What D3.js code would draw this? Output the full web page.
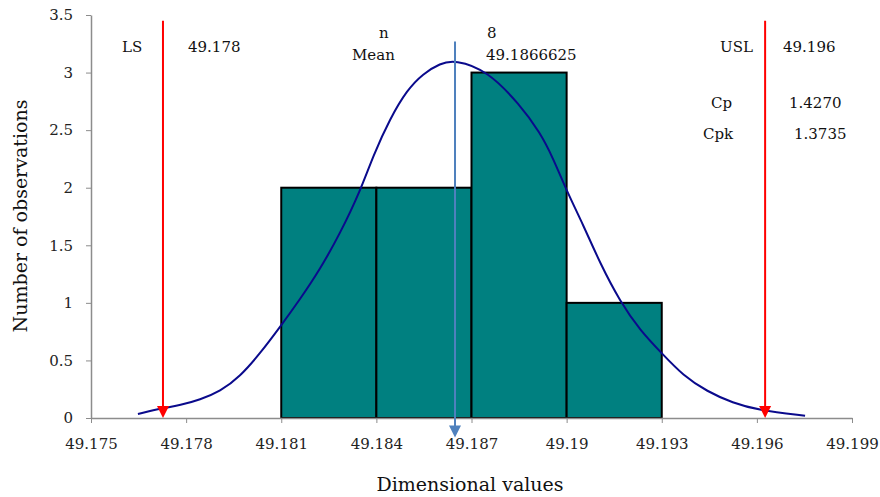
<!DOCTYPE html>
<html>
<head>
<meta charset="utf-8">
<script src="https://cdn.jsdelivr.net/npm/d3@7"></script>
<style>
  body { margin: 0; background: #fff; }
  svg { display: block; }
</style>
</head>
<body>
<svg id="chart" width="880" height="497"></svg>
<script>
// histogram bins and counts
const binEdges = [49.181, 49.184, 49.187, 49.19, 49.193];
const counts = [2, 2, 3, 1];

// fitted curve
const curveX = [49.17648, 49.17727, 49.17781, 49.17844, 49.17907, 49.1797, 49.18033, 49.18096,
  49.18159, 49.18222, 49.18285, 49.18349, 49.1839, 49.18443, 49.18497, 49.18547, 49.18601,
  49.18648, 49.18749, 49.18853, 49.18916, 49.18957, 49.19002, 49.19052, 49.19106, 49.19169,
  49.19232, 49.19301, 49.19367, 49.19443, 49.19525, 49.19601, 49.19752];
const curveY = [0.035, 0.087, 0.11, 0.16, 0.23, 0.36, 0.56, 0.79, 1.03, 1.29, 1.6, 1.97, 2.28,
  2.6, 2.85, 2.99, 3.08, 3.11, 3.02, 2.72, 2.48, 2.26, 1.96, 1.68, 1.34, 1.01, 0.76, 0.56,
  0.37, 0.23, 0.13, 0.07, 0.02];

// axis ticks
const xTicks = [49.175, 49.178, 49.181, 49.184, 49.187, 49.19, 49.193, 49.196, 49.199];
const xTickLabels = ["49.175", "49.178", "49.181", "49.184", "49.187", "49.19", "49.193", "49.196", "49.199"];
const yTicks = [0, 0.5, 1, 1.5, 2, 2.5, 3, 3.5];
const yTickLabels = ["0", "0.5", "1", "1.5", "2", "2.5", "3", "3.5"];

// spec limit and mean markers (where the arrows sit on the x axis)
const lslMark = 49.17727, uslMark = 49.19626, meanMark = 49.18648;

// annotation texts
const statLabels = ["LS", "n", "Mean", "USL", "Cp", "Cpk"];
const statValues = ["49.178", "8", "49.1866625", "49.196", "1.4270", "1.3735"];

const svg = d3.select("#chart");
const serif = "DejaVu Serif";

const x = d3.scaleLinear().domain([49.175, 49.199]).range([91, 852]);
const y = d3.scaleLinear().domain([0, 3.5]).range([418, 15]);

// bars
svg.append("g").selectAll("rect")
    .data(counts)
    .join("rect")
    .attr("x", (d, i) => x(binEdges[i]))
    .attr("y", d => y(d))
    .attr("width", (d, i) => x(binEdges[i + 1]) - x(binEdges[i]))
    .attr("height", d => y(0) - y(d))
    .attr("fill", "#008080")
    .attr("stroke", "#000")
    .attr("stroke-width", 2);

// x axis
const xAxis = svg.append("g")
    .attr("transform", `translate(0,${y(0)})`)
    .call(d3.axisBottom(x).tickValues(xTicks).tickSize(5).tickSizeOuter(0)
        .tickFormat((d, i) => xTickLabels[i]));
xAxis.select(".domain").attr("stroke", "#8c8c8c").attr("stroke-width", 1.5);
xAxis.selectAll(".tick line").attr("stroke", "#8c8c8c");
xAxis.selectAll(".tick text")
    .attr("y", 20)
    .attr("font-family", serif)
    .attr("font-size", 15)
    .attr("fill", "#222");

// y axis
const yAxis = svg.append("g")
    .attr("transform", `translate(${x(49.175)},0)`)
    .call(d3.axisLeft(y).tickValues(yTicks).tickSize(5).tickSizeOuter(0)
        .tickFormat((d, i) => yTickLabels[i]));
yAxis.select(".domain").attr("stroke", "#8c8c8c").attr("stroke-width", 1.5);
yAxis.selectAll(".tick line").attr("stroke", "#8c8c8c");
yAxis.selectAll(".tick text")
    .attr("x", -18)
    .attr("font-family", serif)
    .attr("font-size", 15)
    .attr("fill", "#222");

// fitted curve
const curvePts = curveX.map((v, i) => [v, curveY[i]]);
svg.append("path")
    .datum(curvePts)
    .attr("fill", "none")
    .attr("stroke", "#0a0a8c")
    .attr("stroke-width", 2)
    .attr("d", d3.line().x(d => x(d[0])).y(d => y(d[1])).curve(d3.curveBasis));

// arrows
function arrow(xv, yTop, yBottom, color) {
  const xp = x(xv);
  const tip = y(yBottom);
  svg.append("line")
      .attr("x1", xp).attr("x2", xp)
      .attr("y1", y(yTop)).attr("y2", tip - 8)
      .attr("stroke", color)
      .attr("stroke-width", 2);
  svg.append("path")
      .attr("d", `M${xp - 6},${tip - 12}L${xp + 6},${tip - 12}L${xp},${tip}Z`)
      .attr("fill", color);
}
arrow(lslMark, 3.45, 0, "#ff0000");
arrow(uslMark, 3.45, 0, "#ff0000");
arrow(meanMark, 3.27, -0.17, "#4f81bd");

// stat annotations
const labelPos = [[122, 52], [379, 38], [352, 60], [720, 52], [711, 108], [703, 139]];
const valuePos = [[188, 52], [487, 38], [486, 60], [783, 52], [789, 108], [794, 139]];
svg.append("g").selectAll("text")
    .data(statLabels)
    .join("text")
    .attr("x", (d, i) => labelPos[i][0])
    .attr("y", (d, i) => labelPos[i][1])
    .attr("font-family", serif)
    .attr("font-size", 15)
    .attr("fill", "#111")
    .text(d => d);
svg.append("g").selectAll("text")
    .data(statValues)
    .join("text")
    .attr("x", (d, i) => valuePos[i][0])
    .attr("y", (d, i) => valuePos[i][1])
    .attr("font-family", serif)
    .attr("font-size", 15)
    .attr("fill", "#111")
    .text(d => d);

// axis titles
svg.append("text")
    .attr("x", 470)
    .attr("y", 491)
    .attr("text-anchor", "middle")
    .attr("font-family", serif)
    .attr("font-size", 19)
    .attr("fill", "#111")
    .text("Dimensional values");

svg.append("text")
    .attr("transform", "translate(27,216) rotate(-90)")
    .attr("text-anchor", "middle")
    .attr("font-family", serif)
    .attr("font-size", 19)
    .attr("fill", "#111")
    .text("Number of observations");
</script>
</body>
</html>
